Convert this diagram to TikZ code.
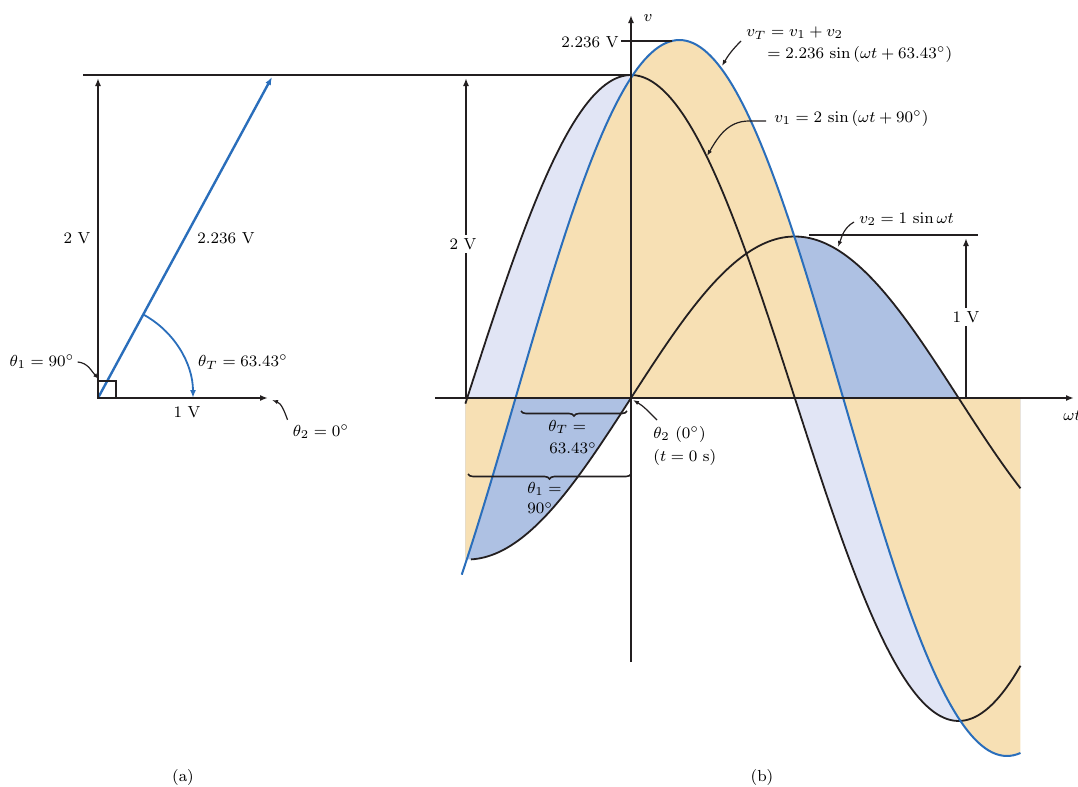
\documentclass[tikz,border=0pt]{standalone}
\usetikzlibrary{arrows.meta,decorations.pathreplacing,calc}
\definecolor{tanf}{HTML}{F7E0B4}
\definecolor{lavf}{HTML}{E1E5F5}
\definecolor{bluef}{HTML}{AEC1E3}
\definecolor{vblue}{HTML}{2A6EBB}
\definecolor{ink}{HTML}{231F20}
\tikzset{
  heavy/.style={ink, line width=1.2pt},
  curve/.style={ink, line width=0.9pt},
  tip/.style={-{Latex[length=4pt,width=3pt]}},
  leader/.style={ink, line width=0.6pt, -{Latex[length=3pt,width=2.2pt]}},
  bracefig/.style={ink, line width=0.8pt, decorate, decoration={brace, amplitude=2.5pt}},
  lbl/.style={inner sep=1.5pt},
  gap/.style={fill=white, inner sep=1.5pt}
}
\begin{document}
\begin{tikzpicture}[x=0.5pt, y=-0.5pt, font=\fontsize{8}{9.5}\selectfont,
  declare function={px(\t)=631+1.82*\t; vone(\t)=398-161.5*2*cos(\t); vtwo(\t)=398-161.5*sin(\t); vtot(\t)=398-358*sin(\t+63.43);}]
\useasboundingbox (0,0) rectangle (1078,787);

% ---------- (b) fills ----------
\fill[bluef] ({px(-91)},398) -- plot[domain=-91:214, samples=160] ({px(\x)},{vtwo(\x)}) -- ({px(214)},398) -- cycle;
\fill[lavf] ({px(-91)},398) -- plot[domain=-91:214, samples=160] ({px(\x)},{vone(\x)}) -- ({px(214)},398) -- cycle;
\fill[tanf] ({px(-91)},398) -- plot[domain=-91:214, samples=160] ({px(\x)},{vtot(\x)}) -- ({px(214)},398) -- cycle;

% ---------- (b) curves ----------
\draw[curve] plot[domain=-91:214, samples=160] ({px(\x)},{vone(\x)});
\draw[curve] plot[domain=-88:214, samples=160] ({px(\x)},{vtwo(\x)});
\draw[vblue, line width=1pt] plot[domain=-93:214, samples=160] ({px(\x)},{vtot(\x)});

% ---------- axes ----------
\coordinate (vaxb) at (631,662);
\coordinate (vaxt) at (631,15);
\coordinate (haxl) at (435,398);
\coordinate (haxr) at (1074,398);
\draw[heavy, tip] (vaxb) -- (vaxt);
\draw[heavy, tip] (haxl) -- (haxr);
\node[lbl] (lv) at (648,18) {$v$};
\node[lbl, anchor=west] (lwt) at (1060,416) {$\omega t$};

% ---------- (a) phasors ----------
\coordinate (O) at (98,398);
\coordinate (Ptop) at (98,78);
\coordinate (PT) at (272,77);
\coordinate (P2) at (268,398);
\coordinate (TL) at (83,75);
\coordinate (V1pk) at (631,75);
\draw[heavy] (TL) -- (V1pk);
\draw[heavy, tip] (O) -- (Ptop);
\draw[heavy, tip] (O) -- (P2);
\draw[vblue, line width=1.2pt, tip] (O) -- (PT);
\draw[ink, line width=0.9pt] (98,381) rectangle (116,398);
\draw[vblue, line width=0.9pt, tip] ($(O)+(61.5:47.5pt)$) arc[start angle=61.5, end angle=0, radius=47.5pt];

\node[lbl] (a2V) at (77,238) {2 V};
\node[lbl] (a2236) at (226,238) {2.236 V};
\node[lbl] (ath1) at (42,362) {$\theta_1 = 90^\circ$};
\node[lbl] (athT) at (243,362) {$\theta_T = 63.43^\circ$};
\node[lbl] (a1V) at (187,412) {1 V};
\node[lbl] (ath2) at (321,432) {$\theta_2 = 0^\circ$};
\coordinate (ath1end) at (99,379);
\coordinate (ath2end) at (272,400);
\draw[leader] (ath1.east) to[out=-5,in=135] (ath1end);
\draw[leader] (ath2.north west) ++(-2,-2) coordinate (ath2s) (ath2s) to[out=110,in=-20] (ath2end);

% ---------- (b) dimensions ----------
\coordinate (d2b) at (466,398);
\coordinate (d2t) at (466,78);
\draw[heavy, tip] (d2b) -- (d2t);
\node[gap] (b2V) at (463,244) {2 V};

\coordinate (d1l) at (809,235);
\coordinate (d1r) at (978,235);
\coordinate (d1b) at (966,398);
\coordinate (d1t) at (966,238);
\draw[heavy] (d1l) -- (d1r);
\draw[heavy, tip] (d1b) -- (d1t);
\node[gap] (b1V) at (966,317) {1 V};

\coordinate (pkl) at (621,41);
\coordinate (pkr) at (672,41);
\draw[heavy] (pkl) -- (pkr);
\node[lbl] (b2236) at (590,42) {2.236 V};

% braces
\coordinate (bTr) at (627,411);
\coordinate (bTl) at (521,411);
\draw[bracefig] (bTr) -- (bTl);
\coordinate (b1r) at (631,474);
\coordinate (b1l) at (468,474);
\draw[bracefig] (b1r) -- (b1l);
\node[lbl, anchor=west] (bthT) at (545,427) {$\theta_T =$};
\node[lbl, anchor=west] (bthTv) at (546,448) {$63.43^\circ$};
\node[lbl, anchor=west] (bth1) at (524,489) {$\theta_1 =$};
\node[lbl, anchor=west] (bth1v) at (524,508) {$90^\circ$};

% ---------- (b) curve labels ----------
\node[lbl, anchor=west] (lvT) at (743,33) {$v_T = v_1 + v_2$};
\node[lbl, anchor=west] (lvT2) at (764,54) {$= 2.236\,\sin\,(\omega t + 63.43^\circ)$};
\coordinate (lvTs) at (741,41);
\coordinate (lvTe) at (722,66);
\draw[leader] (lvTs) to[out=-135,in=60] (lvTe);

\node[lbl, anchor=west] (lv1) at (771,118) {$v_1 = 2\,\sin\,(\omega t + 90^\circ)$};
\coordinate (lv1s) at (766,121);
\coordinate (lv1m) at (749,121);
\coordinate (lv1e) at (707,156);
\draw[leader] (lv1s) -- (lv1m) to[out=180,in=60] (lv1e);

\node[lbl, anchor=west] (lv2) at (856,219) {$v_2 = 1\,\sin\omega t$};
\coordinate (lv2s) at (854,222);
\coordinate (lv2e) at (838,247);
\draw[leader] (lv2s) to[out=-150,in=70] (lv2e);

\node[lbl, anchor=west] (lth20) at (650,434) {$\theta_2\ (0^\circ)$};
\node[lbl, anchor=west] (lt0) at (650,457) {$(t = 0\ \mathrm{s})$};
\coordinate (lth2s) at (657,420);
\coordinate (lth2e) at (633,400);
\draw[leader] (lth2s) to[out=135,in=-30] (lth2e);

% ---------- captions ----------
\node[lbl] (capa) at (183,777) {(a)};
\node[lbl] (capb) at (762,777) {(b)};
\end{tikzpicture}
\end{document}
